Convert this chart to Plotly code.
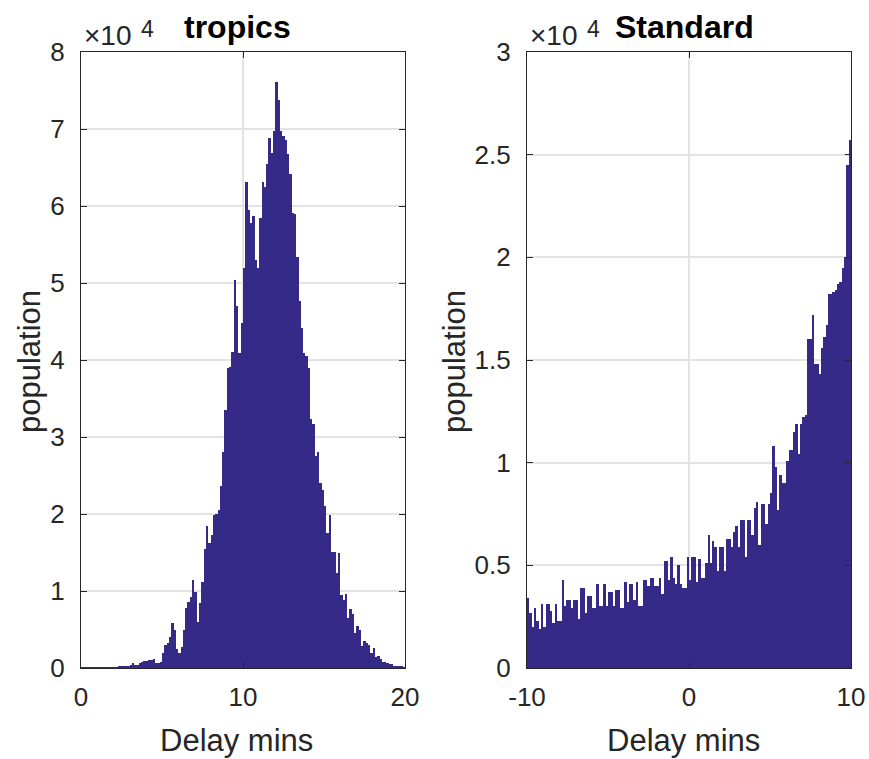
import numpy as np
import plotly.graph_objects as go

# ---- data (population in units of 1e4) ----
bins_per_min = 7
tropics_range = [0, 20]
standard_range = [-10, 10]

tropics_pop_e4 = [
    0.002, 0.002, 0.003, 0.002, 0.003, 0.003, 0.004,
    0.004, 0.005, 0.004, 0.006, 0.005, 0.007, 0.006,
    0.01, 0.012, 0.015, 0.02, 0.025, 0.02, 0.03,
    0.035, 0.07, 0.04, 0.045, 0.06, 0.08, 0.09,
    0.09, 0.1, 0.11, 0.12, 0.07, 0.06, 0.08,
    0.2, 0.3, 0.32, 0.4, 0.58, 0.5, 0.25,
    0.19, 0.27, 0.5, 0.78, 0.86, 0.92, 1.14,
    0.99, 0.6, 0.84, 1.12, 1.55, 1.84, 1.62,
    1.73, 1.99, 2.0, 2.05, 2.37, 2.81, 3.35,
    3.89, 3.91, 4.1, 5.04, 4.7, 4.09, 4.48,
    5.2, 6.31, 5.95, 5.78, 5.87, 5.3, 5.19,
    5.85, 6.31, 6.25, 6.55, 6.88, 6.69, 6.97,
    7.61, 7.38, 6.97, 6.91, 6.86, 6.67, 6.42,
    5.91, 5.9, 5.34, 4.76, 4.41, 4.09, 4.05,
    3.89, 3.23, 3.17, 2.75, 2.8, 2.4, 2.31,
    2.11, 1.75, 1.99, 1.51, 1.51, 1.24, 1.5,
    0.95, 0.88, 0.96, 0.65, 0.76, 0.7, 0.45,
    0.54, 0.5, 0.28, 0.35, 0.32, 0.3, 0.2,
    0.26, 0.14, 0.15, 0.12, 0.08, 0.08, 0.06,
    0.05, 0.05, 0.03, 0.02, 0.02, 0.02, 0.01,
]

standard_pop_e4 = [
    0.34, 0.27, 0.2, 0.29, 0.23, 0.19, 0.31,
    0.2, 0.31, 0.31, 0.28, 0.22, 0.31, 0.23,
    0.23, 0.43, 0.3, 0.33, 0.33, 0.29, 0.33,
    0.33, 0.24, 0.39, 0.39, 0.27, 0.35, 0.35,
    0.29, 0.29, 0.41, 0.3, 0.3, 0.41, 0.3,
    0.37, 0.37, 0.3, 0.38, 0.38, 0.29, 0.29,
    0.42, 0.32, 0.41, 0.41, 0.33, 0.42, 0.3,
    0.3, 0.43, 0.43, 0.4, 0.44, 0.44, 0.4,
    0.4, 0.44, 0.36, 0.52, 0.52, 0.43, 0.54,
    0.44, 0.41, 0.5, 0.41, 0.39, 0.39, 0.54,
    0.43, 0.54, 0.54, 0.42, 0.53, 0.44, 0.44,
    0.51, 0.65, 0.51, 0.62, 0.59, 0.47, 0.59,
    0.59, 0.47, 0.63, 0.63, 0.59, 0.66, 0.69,
    0.59, 0.72, 0.72, 0.54, 0.72, 0.72, 0.65,
    0.78, 0.81, 0.6, 0.8, 0.8, 0.7, 0.8,
    0.85, 1.08, 0.98, 0.77, 0.94, 0.9, 0.9,
    1.01, 1.06, 1.06, 1.15, 1.19, 1.04, 1.19,
    1.22, 1.23, 1.6, 1.6, 1.72, 1.48, 1.48,
    1.43, 1.56, 1.61, 1.67, 1.82, 1.82, 1.83,
    1.84, 1.87, 1.88, 1.95, 2.0, 2.45, 2.57,
]

tropics_xticks = [0, 10, 20]
tropics_xticklabels = ["0", "10", "20"]
standard_xticks = [-10, 0, 10]
standard_xticklabels = ["-10", "0", "10"]
x_label = "Delay mins"
y_label = "population"
titles = ["tropics", "Standard"]
exponent_base = "\u00d710"
exponent_power = "4"

# ---- styling ----
BAR = "#352A87"
TXT = "#262626"
GRID = "#e3e3e3"
FONT = "Liberation Sans, Arial, Helvetica, sans-serif"
W, H = 869, 759
TICK_SIZE = 26
LABEL_SIZE = 31
TITLE_SIZE = 32


def centers(lo, n):
    w = 1.0 / bins_per_min
    return lo + (np.arange(n) + 0.5) * w


fig = go.Figure()
fig.add_trace(go.Bar(
    x=centers(tropics_range[0], len(tropics_pop_e4)), y=tropics_pop_e4,
    width=1.0 / bins_per_min, marker=dict(color=BAR, line=dict(width=0)),
    xaxis="x", yaxis="y", showlegend=False))
fig.add_trace(go.Bar(
    x=centers(standard_range[0], len(standard_pop_e4)), y=standard_pop_e4,
    width=1.0 / bins_per_min, marker=dict(color=BAR, line=dict(width=0)),
    xaxis="x2", yaxis="y2", showlegend=False))

ax_common = dict(
    showline=True, linecolor=TXT, linewidth=1.3, mirror="ticks",
    ticks="inside", ticklen=6, tickcolor=TXT, tickwidth=1.3,
    showgrid=True, gridcolor=GRID, gridwidth=1.5, zeroline=False,
    tickfont=dict(family=FONT, size=TICK_SIZE, color=TXT),
    fixedrange=True, automargin=False,
)

dom_y = [(H - 668) / H, (H - 52) / H]
dom_x1 = [81 / W, 405 / W]
dom_x2 = [527 / W, 851 / W]

fig.update_layout(
    width=W, height=H,
    margin=dict(l=0, r=0, t=0, b=0),
    paper_bgcolor="white", plot_bgcolor="white",
    bargap=0, barmode="overlay",
    font=dict(family=FONT, color=TXT),
    xaxis=dict(ax_common, domain=dom_x1, range=tropics_range,
               tickvals=tropics_xticks, ticktext=tropics_xticklabels,
               anchor="y", ticklabelstandoff=6),
    yaxis=dict(ax_common, domain=dom_y, range=[0, 8], dtick=1, anchor="x",
               ticklabelstandoff=10),
    xaxis2=dict(ax_common, domain=dom_x2, range=standard_range,
                tickvals=standard_xticks, ticktext=standard_xticklabels,
                anchor="y2", ticklabelstandoff=6),
    yaxis2=dict(ax_common, domain=dom_y, range=[0, 3], dtick=0.5, anchor="x2",
                ticklabelstandoff=10),
)

# titles, axis labels and exponent labels
for dom, title, ylab_x in [(dom_x1, titles[0], 30), (dom_x2, titles[1], 455)]:
    cx = (dom[0] + dom[1]) / 2
    fig.add_annotation(xref="paper", yref="paper", x=cx - 5 / W, y=(H - 27) / H,
                       xanchor="center", yanchor="middle", showarrow=False,
                       text="<b>%s</b>" % title,
                       font=dict(family=FONT, size=TITLE_SIZE, color="black"))
    fig.add_annotation(xref="paper", yref="paper", x=dom[0] + 1 / W, y=(H - 36) / H,
                       xanchor="left", yanchor="middle", showarrow=False,
                       text=exponent_base,
                       font=dict(family=FONT, size=28, color=TXT))
    fig.add_annotation(xref="paper", yref="paper", x=dom[0] + 58 / W, y=(H - 29) / H,
                       xanchor="left", yanchor="middle", showarrow=False,
                       text=exponent_power,
                       font=dict(family=FONT, size=23, color=TXT))
    fig.add_annotation(xref="paper", yref="paper", x=cx - 6 / W, y=(H - 740) / H,
                       xanchor="center", yanchor="middle", showarrow=False,
                       text=x_label,
                       font=dict(family=FONT, size=LABEL_SIZE, color=TXT))
    fig.add_annotation(xref="paper", yref="paper", x=ylab_x / W, y=(H - 362) / H,
                       xanchor="center", yanchor="middle", showarrow=False,
                       text=y_label, textangle=-90,
                       font=dict(family=FONT, size=LABEL_SIZE, color=TXT))

fig.write_html("out.html")
